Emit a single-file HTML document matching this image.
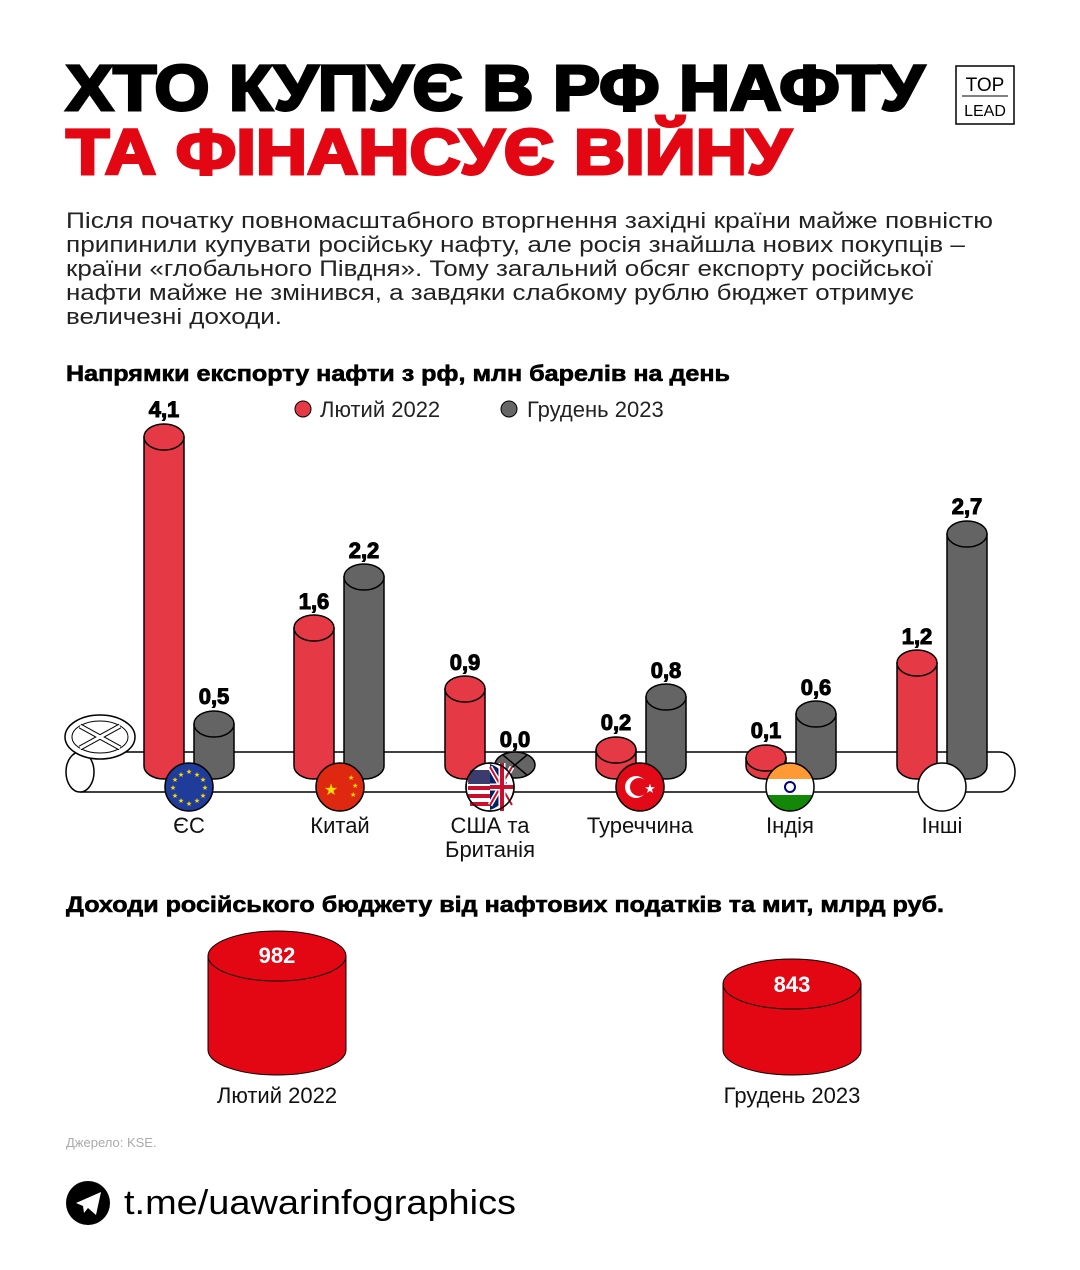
<!DOCTYPE html>
<html><head><meta charset="utf-8"><style>
html,body{margin:0;padding:0;background:#fff}
svg{display:block}
text{font-family:"Liberation Sans",sans-serif}
.b{font-weight:bold}
.v{font-weight:bold;font-size:22px;fill:#000;text-anchor:middle;stroke:#000;stroke-width:1}
.c{font-size:22px;fill:#111;text-anchor:middle}
</style></head><body>
<svg width="1080" height="1270" viewBox="0 0 1080 1270" xmlns="http://www.w3.org/2000/svg">
<rect width="1080" height="1270" fill="#fff"/>
<text x="66" y="110" class="b" font-size="64" fill="#000" stroke="#000" stroke-width="3" textLength="858" lengthAdjust="spacingAndGlyphs">ХТО КУПУЄ В РФ НАФТУ</text>
<text x="66" y="174" class="b" font-size="64" fill="#e30613" stroke="#e30613" stroke-width="3" textLength="725" lengthAdjust="spacingAndGlyphs">ТА ФІНАНСУЄ ВІЙНУ</text>
<rect x="956" y="66" width="58" height="58" fill="none" stroke="#000" stroke-width="1.5"/>
<text x="985" y="91" font-size="19" text-anchor="middle" fill="#000">TOP</text>
<line x1="962" y1="96" x2="1008" y2="96" stroke="#000" stroke-width="1"/>
<text x="985" y="116" font-size="16" text-anchor="middle" fill="#000">LEAD</text>
<g font-size="22" fill="#222">
<text x="66" y="228" textLength="927" lengthAdjust="spacingAndGlyphs">Після початку повномасштабного вторгнення західні країни майже повністю</text>
<text x="66" y="252" textLength="899" lengthAdjust="spacingAndGlyphs">припинили купувати російську нафту, але росія знайшла нових покупців –</text>
<text x="66" y="276" textLength="867" lengthAdjust="spacingAndGlyphs">країни «глобального Півдня». Тому загальний обсяг експорту російської</text>
<text x="66" y="300" textLength="848" lengthAdjust="spacingAndGlyphs">нафти майже не змінився, а завдяки слабкому рублю бюджет отримує</text>
<text x="66" y="324" textLength="216" lengthAdjust="spacingAndGlyphs">величезні доходи.</text>
</g>
<text x="66" y="381" class="b" font-size="22" fill="#000" stroke="#000" stroke-width="0.6" textLength="664" lengthAdjust="spacingAndGlyphs">Напрямки експорту нафти з рф, млн барелів на день</text>
<circle cx="303" cy="409" r="8" fill="#e63946" stroke="#000"/>
<text x="320" y="417" font-size="22" fill="#222">Лютий 2022</text>
<circle cx="509" cy="409" r="8" fill="#666" stroke="#000"/>
<text x="527" y="417" font-size="22" fill="#222">Грудень 2023</text>

<path d="M80,752 L1000,752 A15,20 0 0 1 1000,792 L80,792" fill="#fff" stroke="#000" stroke-width="1.5"/>
<ellipse cx="80" cy="772" rx="14" ry="20" fill="#fff" stroke="#000" stroke-width="1.5"/>
<rect x="97" y="738" width="6" height="14" fill="#fff" stroke="#000"/>
<ellipse cx="100" cy="737" rx="35" ry="22" fill="#fff" stroke="#000" stroke-width="1.5"/>
<ellipse cx="100" cy="737" rx="28" ry="16" fill="none" stroke="#000"/>
<path d="M80,726 L120,748 M120,726 L80,748" stroke="#000" stroke-width="5"/>
<path d="M80,726 L120,748 M120,726 L80,748" stroke="#fff" stroke-width="3"/>

<g stroke="#000" stroke-width="1.5">
<g fill="#e63946">
<path d="M144,437 L144,766 A20,13 0 0 0 184,766 L184,437 Z"/><ellipse cx="164" cy="437" rx="20" ry="13"/>
<path d="M294,628 L294,766 A20,13 0 0 0 334,766 L334,628 Z"/><ellipse cx="314" cy="628" rx="20" ry="13"/>
<path d="M445,689 L445,766 A20,13 0 0 0 485,766 L485,689 Z"/><ellipse cx="465" cy="689" rx="20" ry="13"/>
<path d="M596,750 L596,766 A20,13 0 0 0 636,766 L636,750 Z"/><ellipse cx="616" cy="750" rx="20" ry="13"/>
<path d="M746,758 L746,766 A20,13 0 0 0 786,766 L786,758 Z"/><ellipse cx="766" cy="758" rx="20" ry="13"/>
<path d="M897,663 L897,766 A20,13 0 0 0 937,766 L937,663 Z"/><ellipse cx="917" cy="663" rx="20" ry="13"/>
</g>
<g fill="#646464">
<path d="M194,724 L194,766 A20,13 0 0 0 234,766 L234,724 Z"/><ellipse cx="214" cy="724" rx="20" ry="13"/>
<path d="M344,577 L344,766 A20,13 0 0 0 384,766 L384,577 Z"/><ellipse cx="364" cy="577" rx="20" ry="13"/>
<ellipse cx="515" cy="765" rx="20" ry="13"/>
<path d="M646,697 L646,766 A20,13 0 0 0 686,766 L686,697 Z"/><ellipse cx="666" cy="697" rx="20" ry="13"/>
<path d="M796,714 L796,766 A20,13 0 0 0 836,766 L836,714 Z"/><ellipse cx="816" cy="714" rx="20" ry="13"/>
<path d="M947,534 L947,766 A20,13 0 0 0 987,766 L987,534 Z"/><ellipse cx="967" cy="534" rx="20" ry="13"/>
</g>
<path d="M503,755 L527,775 M527,755 L503,775" fill="none"/>
</g>
<g>
<text x="164" y="417" class="v">4,1</text>
<text x="214" y="704" class="v">0,5</text>
<text x="314" y="609" class="v">1,6</text>
<text x="364" y="558" class="v">2,2</text>
<text x="465" y="670" class="v">0,9</text>
<text x="515" y="747" class="v">0,0</text>
<text x="616" y="730" class="v">0,2</text>
<text x="666" y="678" class="v">0,8</text>
<text x="766" y="738" class="v">0,1</text>
<text x="816" y="695" class="v">0,6</text>
<text x="917" y="644" class="v">1,2</text>
<text x="967" y="514" class="v">2,7</text>
</g>
<circle cx="189" cy="787" r="24" fill="#1f3c9a" stroke="#000" stroke-width="1.5"/>
<g fill="#ffd700" font-size="7" text-anchor="middle">
<text x="189" y="774">★</text><text x="189" y="806">★</text><text x="173" y="790">★</text><text x="205" y="790">★</text>
<text x="181" y="777">★</text><text x="197" y="777">★</text><text x="181" y="803">★</text><text x="197" y="803">★</text>
<text x="175" y="782">★</text><text x="203" y="782">★</text><text x="175" y="798">★</text><text x="203" y="798">★</text>
</g>
<circle cx="340" cy="787" r="24" fill="#de2910" stroke="#000" stroke-width="1.5"/>
<text x="331" y="795" font-size="16" fill="#ffde00" text-anchor="middle">★</text>
<text x="348" y="780" font-size="7" fill="#ffde00">★</text><text x="352" y="788" font-size="7" fill="#ffde00">★</text><text x="350" y="797" font-size="7" fill="#ffde00">★</text>
<circle cx="490" cy="787" r="24" fill="#fff" stroke="#000" stroke-width="1.5"/>
<path d="M468,780 h22 M468,788 h22 M468,796 h22 M470,804 h20" stroke="#c8102e" stroke-width="4"/>
<path d="M470,770 h20 v14 h-22 z" fill="#3c3b6e"/>
<path d="M490,764 v46 a24,24 0 0 0 0,-46z" fill="#012169"/>
<path d="M490,767 L512,805 M490,805 L512,767" stroke="#fff" stroke-width="5"/>
<path d="M490,767 L512,805 M490,805 L512,767" stroke="#c8102e" stroke-width="2"/>
<path d="M490,787 h24 M502,763 v48" stroke="#fff" stroke-width="7"/>
<path d="M490,787 h24 M502,763 v48" stroke="#c8102e" stroke-width="4"/>
<circle cx="490" cy="787" r="24" fill="none" stroke="#000" stroke-width="1.5"/>
<circle cx="640" cy="787" r="24" fill="#e30a17" stroke="#000" stroke-width="1.5"/>
<circle cx="636" cy="787" r="11" fill="#fff"/><circle cx="639" cy="787" r="9" fill="#e30a17"/>
<text x="650" y="793" font-size="13" fill="#fff" text-anchor="middle">★</text>
<clipPath id="ind"><circle cx="790" cy="787" r="24"/></clipPath>
<g clip-path="url(#ind)"><rect x="766" y="763" width="48" height="16" fill="#ff9933"/><rect x="766" y="779" width="48" height="16" fill="#fff"/><rect x="766" y="795" width="48" height="16" fill="#138808"/></g>
<circle cx="790" cy="787" r="5" fill="none" stroke="#000080" stroke-width="2"/>
<circle cx="790" cy="787" r="24" fill="none" stroke="#000" stroke-width="1.5"/>
<circle cx="942" cy="787" r="24" fill="#fff" stroke="#000" stroke-width="1.5"/>

<text x="189" y="833" class="c">ЄС</text>
<text x="340" y="833" class="c">Китай</text>
<text x="490" y="833" class="c">США та</text>
<text x="490" y="857" class="c">Британія</text>
<text x="640" y="833" class="c">Туреччина</text>
<text x="790" y="833" class="c">Індія</text>
<text x="942" y="833" class="c">Інші</text>

<text x="66" y="912" class="b" font-size="22" fill="#000" stroke="#000" stroke-width="0.6" textLength="878" lengthAdjust="spacingAndGlyphs">Доходи російського бюджету від нафтових податків та мит, млрд руб.</text>
<g fill="#e30613" stroke="#000" stroke-width="1">
<path d="M208,956 L208,1050 A69,25 0 0 0 346,1050 L346,956 Z"/><ellipse cx="277" cy="956" rx="69" ry="25"/>
<path d="M723,984 L723,1050 A69,25 0 0 0 861,1050 L861,984 Z"/><ellipse cx="792" cy="984" rx="69" ry="25"/>
</g>
<text x="277" y="963" class="b" font-size="22" fill="#fff" text-anchor="middle">982</text>
<text x="792" y="992" class="b" font-size="22" fill="#fff" text-anchor="middle">843</text>
<text x="277" y="1103" class="c">Лютий 2022</text>
<text x="792" y="1103" class="c">Грудень 2023</text>
<text x="66" y="1147" font-size="13" fill="#aaa">Джерело: KSE.</text>
<circle cx="88" cy="1203" r="22" fill="#000"/>
<path d="M76,1203 L101,1192 L96,1215 L88,1208 L84,1213 L83,1206 Z" fill="#fff"/>
<text x="124" y="1214" font-size="34" fill="#000" textLength="392" lengthAdjust="spacingAndGlyphs">t.me/uawarinfographics</text>
</svg>
</body></html>
